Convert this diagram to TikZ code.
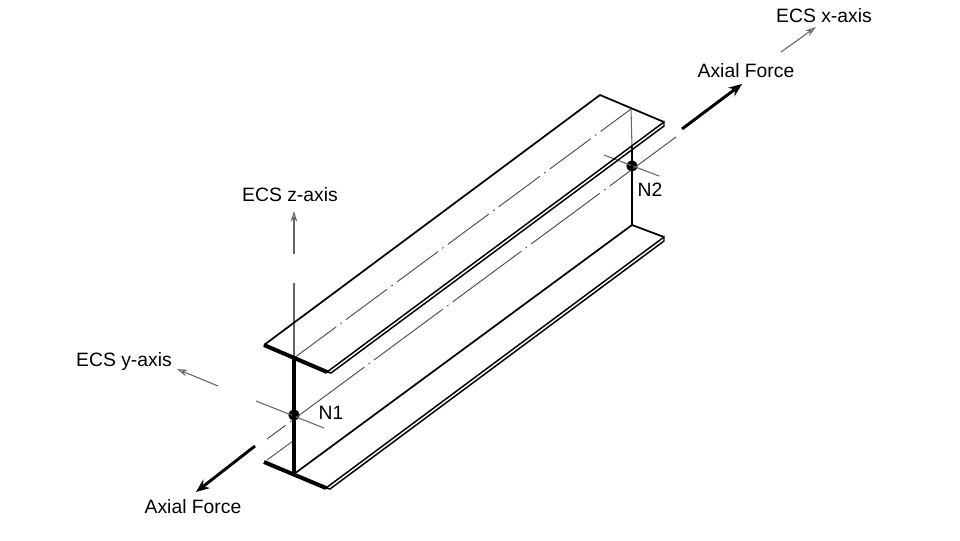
\documentclass[tikz,border=0pt]{standalone}
\usepackage{fontspec}
\setmainfont{Liberation Sans}
\usetikzlibrary{arrows.meta}
\begin{document}
\begin{tikzpicture}[
      x=.75pt, y=-.75pt,
      edge/.style={black, line width=1.3pt},
      thinedge/.style={black, line width=1.1pt},
      cut/.style={black, line width=3pt},
      axis/.style={black!60, line width=.8pt},
      topcenter/.style={black!70, line width=.7pt, dash pattern=on 38.3pt off 4pt on 1.2pt off 4pt, dash phase=-1pt},
      webcenter/.style={black!70, line width=.7pt, dash pattern=on 64pt off 4pt on 1.2pt off 4pt, dash phase=46.5pt},
      axisarrow/.style={axis, -{Stealth[length=8pt,width=5pt,open]}},
      force/.style={black, line width=2.2pt, -{Stealth[length=10pt,width=8pt]}},
      label/.style={black, font=\fontsize{14.5}{16}\selectfont, inner sep=0pt},
      joint/.style={circle, fill=black, inner sep=0pt, minimum size=8.5pt}]
    \useasboundingbox (0,0) rectangle (960,540);
    % top flange
    \coordinate (topleft) at (264,345);
    \coordinate (topback) at (600,95);
    \coordinate (topright) at (664,122);
    \coordinate (topright2) at (664,126);
    \coordinate (topfront) at (327,372);
    \coordinate (topfront2) at (331,373);
    \coordinate (topmid1) at (294,358);
    \coordinate (topmid2) at (631,109);
    % bottom flange
    \coordinate (botleft) at (264,462);
    \coordinate (botfront) at (326,488);
    \coordinate (botfront2) at (330,489);
    \coordinate (botright) at (664,237);
    \coordinate (botright2) at (664,241);
    \coordinate (botmid1) at (294,474);
    \coordinate (botmid2) at (632,225);
    \coordinate (hidden1) at (267,460);
    \coordinate (hidden2) at (293,441);
    \coordinate (webtop2) at (632,147);
    % nodes on the web
    \node[joint] (dot1) at (294,415) {};
    \node[joint] (dot2) at (632,166) {};
    \coordinate (cross1a) at (256,401);
    \coordinate (cross1b) at (324,428);
    \coordinate (cross2a) at (604,155);
    \coordinate (cross2b) at (659,176);
    \coordinate (axisend1) at (267,439);
    \coordinate (axisend2) at (676,137);
    % axes
    \coordinate (zlow) at (294,283);
    \coordinate (zstart) at (294,254);
    \coordinate (zend) at (294,211);
    \coordinate (ystart) at (218,386);
    \coordinate (yend) at (177,369);
    \coordinate (xstart) at (781,52);
    \coordinate (xend) at (816,27);
    \coordinate (force1a) at (682,129);
    \coordinate (force1b) at (742,84);
    \coordinate (force2a) at (255,446);
    \coordinate (force2b) at (196,492);
    % labels
    \node[label] (xlabel) at (824,16) {ECS x-axis};
    \node[label] (ylabel) at (124,361) {ECS y-axis};
    \node[label] (zlabel) at (290,195) {ECS z-axis};
    \node[label] (force1) at (746,71) {Axial Force};
    \node[label] (force2) at (193,507) {Axial Force};
    \node[label] (n1) at (331,413) {N1};
    \node[label] (n2) at (650,190) {N2};
    % centre lines
    \draw[topcenter] (topmid1) -- (topmid2);
    \draw[webcenter] (axisend1) -- (axisend2);
    \draw[axis] (cross1a) -- (cross1b);
    \draw[axis] (cross2a) -- (cross2b);
    \draw[axis] (topmid2) -- (webtop2);
    \draw[axis] (topmid1) -- (zlow);
    \draw[axis] (hidden1) -- (hidden2);
    % beam
    \draw[edge] (topleft) -- (topback) -- (topright);
    \draw[thinedge] (topfront) -- (topright) -- (topright2) -- (topfront2) -- (topfront);
    \draw[thinedge] (botfront) -- (botright) -- (botright2) -- (botfront2) -- (botfront);
    \draw[edge] (botmid1) -- (botmid2) -- (botright);
    \draw[cut] (topleft) -- (topfront);
    \draw[cut] (botleft) -- (botfront);
    \draw[cut] (topmid1) -- (botmid1);
    \draw[edge] (webtop2) -- (botmid2);
    % arrows
    \draw[axisarrow] (zstart) -- (zend);
    \draw[axisarrow] (ystart) -- (yend);
    \draw[axisarrow] (xstart) -- (xend);
    \draw[force] (force1a) -- (force1b);
    \draw[force] (force2a) -- (force2b);
  \end{tikzpicture}
\end{document}
